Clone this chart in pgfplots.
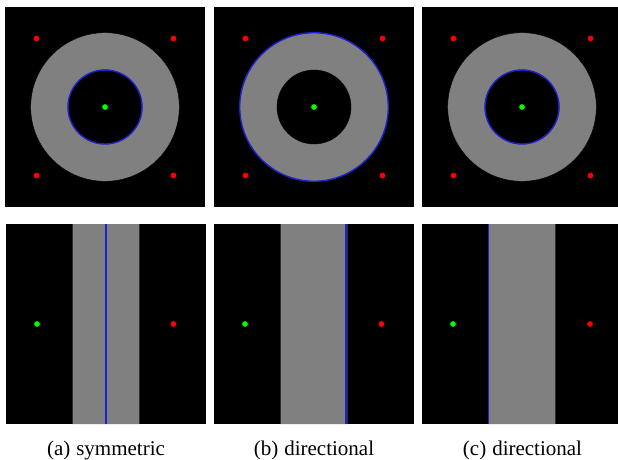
\documentclass[border=0pt]{standalone}
\usepackage{pgfplots}
\pgfplotsset{compat=1.18}
\usepackage{fontspec}
\setmainfont{Liberation Serif}
\definecolor{ringgray}{RGB}{128,128,128}
\definecolor{bl}{RGB}{30,30,210}
\definecolor{gr}{RGB}{0,255,0}
\definecolor{rd}{RGB}{255,0,0}
\pgfplotsset{panel/.style={scale only axis, width=200pt, height=200pt,
  xmin=-1, xmax=1, ymin=-1, ymax=1, ticks=none,
  axis line style={draw=none}, axis background/.style={fill=black},
  anchor=north west, clip=true}}
\pgfplotsset{
  disc/.style={only marks, mark=*, mark size=#1, mark options={fill=ringgray, draw=none}},
  hole/.style={only marks, mark=*, mark size=#1, mark options={fill=black, draw=none}},
  bring/.style={only marks, mark=o, mark size=#1, mark options={draw=bl, line width=1.4pt}},
  gdot/.style={only marks, mark=*, mark size=3.2pt, mark options={fill=gr, draw=none}},
  rdot/.style={only marks, mark=*, mark size=3.2pt, mark options={fill=rd, draw=none}},
  vline/.style={draw=bl, line width=1.4pt, mark=none},
}
\begin{document}
\begin{tikzpicture}
\path[use as bounding box] (0,0) rectangle (618pt,-459pt);
% ---------- top row ----------
\begin{axis}[panel, at={(5pt,-7pt)}]
\addplot[disc=74.3pt] coordinates {(0,0)};
\addplot[hole=37pt] coordinates {(0,0)};
\addplot[bring=37pt] coordinates {(0,0)};
\addplot[gdot] coordinates {(0,0)};
\addplot[rdot] coordinates {(-0.685,0.685) (0.685,0.685) (-0.685,-0.685) (0.685,-0.685)};
\end{axis}
\begin{axis}[panel, at={(214pt,-7pt)}]
\addplot[disc=74.3pt] coordinates {(0,0)};
\addplot[hole=37pt] coordinates {(0,0)};
\addplot[bring=74.3pt] coordinates {(0,0)};
\addplot[gdot] coordinates {(0,0)};
\addplot[rdot] coordinates {(-0.685,0.685) (0.685,0.685) (-0.685,-0.685) (0.685,-0.685)};
\end{axis}
\begin{axis}[panel, at={(422pt,-7pt)}, width=196pt, xmax=0.96]
\addplot[disc=74.3pt] coordinates {(0,0)};
\addplot[hole=37pt] coordinates {(0,0)};
\addplot[bring=37pt] coordinates {(0,0)};
\addplot[gdot] coordinates {(0,0)};
\addplot[rdot] coordinates {(-0.685,0.685) (0.685,0.685) (-0.685,-0.685) (0.685,-0.685)};
\end{axis}
% ---------- bottom row ----------
\begin{axis}[panel, at={(6pt,-224pt)}]
\addplot[fill=ringgray, draw=none] coordinates {(-0.333,-1) (0.333,-1) (0.333,1) (-0.333,1) (-0.333,-1)};
\addplot[vline] coordinates {(0,-1) (0,1)};
\addplot[gdot] coordinates {(-0.69,0)};
\addplot[rdot] coordinates {(0.675,0)};
\end{axis}
\begin{axis}[panel, at={(214pt,-224pt)}]
\addplot[fill=ringgray, draw=none] coordinates {(-0.333,-1) (0.333,-1) (0.333,1) (-0.333,1) (-0.333,-1)};
\addplot[vline] coordinates {(0.32,-1) (0.32,1)};
\addplot[gdot] coordinates {(-0.69,0)};
\addplot[rdot] coordinates {(0.675,0)};
\end{axis}
\begin{axis}[panel, at={(422pt,-224pt)}, width=196pt, xmax=0.96]
\addplot[fill=ringgray, draw=none] coordinates {(-0.333,-1) (0.333,-1) (0.333,1) (-0.333,1) (-0.333,-1)};
\addplot[vline] coordinates {(-0.333,-1) (-0.333,1)};
\addplot[gdot] coordinates {(-0.69,0)};
\addplot[rdot] coordinates {(0.68,0)};
\end{axis}
% ---------- captions ----------
\node[font=\fontsize{21}{25}\selectfont, anchor=base, inner sep=0pt] at (106pt,-455.5pt) {(a)\hspace{6pt}symmetric};
\node[font=\fontsize{21}{25}\selectfont, anchor=base, inner sep=0pt] at (314pt,-455.5pt) {(b)\hspace{6pt}directional};
\node[font=\fontsize{21}{25}\selectfont, anchor=base, inner sep=0pt] at (522.5pt,-455.5pt) {(c)\hspace{6pt}directional};
\end{tikzpicture}
\end{document}
